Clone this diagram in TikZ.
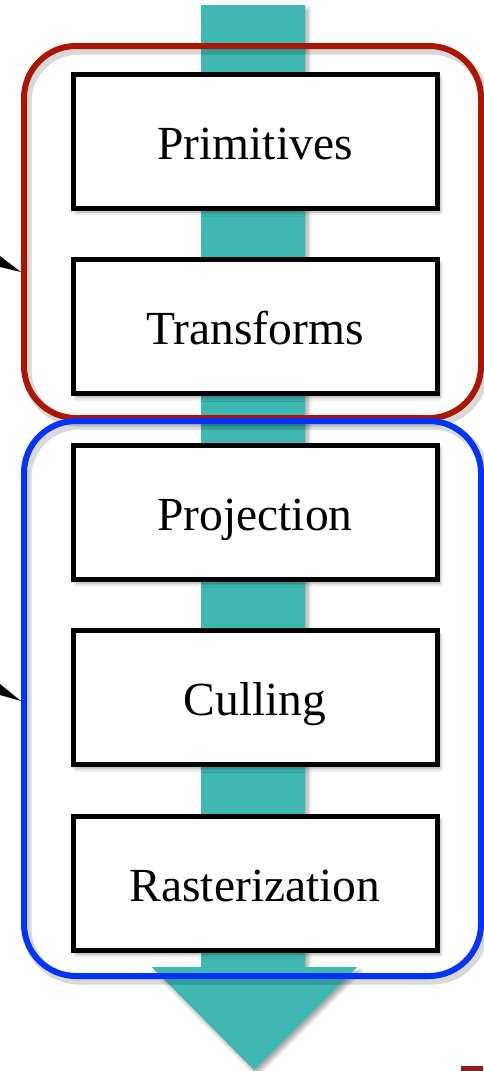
\documentclass[tikz,border=0pt]{standalone}
\usepackage{fontspec}
\setmainfont{Liberation Serif}
\usetikzlibrary{shadows.blur}
\definecolor{teal1}{RGB}{62,184,176}
\definecolor{grpred}{RGB}{170,22,0}
\definecolor{grpblue}{RGB}{0,51,255}
\definecolor{darkred}{RGB}{140,30,30}
\tikzset{
  shad/.style={blur shadow={shadow xshift=3pt, shadow yshift=-4pt, shadow blur steps=6, shadow opacity=35, shadow blur radius=4pt}},
  stage/.style={draw=black, line width=5pt, fill=white, minimum width=364pt, minimum height=134pt, inner sep=0pt, text height=44pt, text depth=8pt, font=\fontsize{47.5}{50}\selectfont, shad},
  grp/.style={line width=6pt, rounded corners=52pt, minimum width=457pt, inner sep=0pt},
  grpshadow/.style={grp, draw=black, draw opacity=0.15, line width=9pt, xshift=3pt, yshift=-4pt},
  wedge/.style={fill=black}
}
\begin{document}
\begin{tikzpicture}[x=1pt,y=-1pt]
\useasboundingbox (0,0) rectangle (483,1071);
% flow arrow
\fill[teal1, shad] (201,5) -- (305,5) -- (305,967) -- (357,967) -- (254,1070) -- (152,967) -- (201,967) -- cycle;
% group shadows
\node[grpshadow, minimum height=372pt] (gredshadow) at (252.5,232) {};
\node[grpshadow, minimum height=555pt] (gblueshadow) at (252.5,698.5) {};
% groups
\node[grp, draw=grpred, minimum height=372pt] (gred) at (252.5,232) {};
\node[grp, draw=grpblue, minimum height=555pt] (gblue) at (252.5,698.5) {};
% stages
\node[stage] (prim) at (255,141) {Primitives};
\node[stage] (trans) at (255,326.5) {Transforms};
\node[stage] (proj) at (255,512) {Projection};
\node[stage] (cull) at (255,697.5) {Culling};
\node[stage] (rast) at (255,883) {Rasterization};
% pointers from the left
\coordinate (rtip) at (gred.west |- 0,272);
\coordinate (btip) at (gblue.west |- 0,701);
\fill[wedge] (0,256) -- (rtip) -- (0,267) -- cycle;
\fill[wedge] (0,684) -- (btip) -- (0,695) -- cycle;
% corner mark
\fill[darkred] (461,1066) rectangle (483,1071);
\end{tikzpicture}
\end{document}
